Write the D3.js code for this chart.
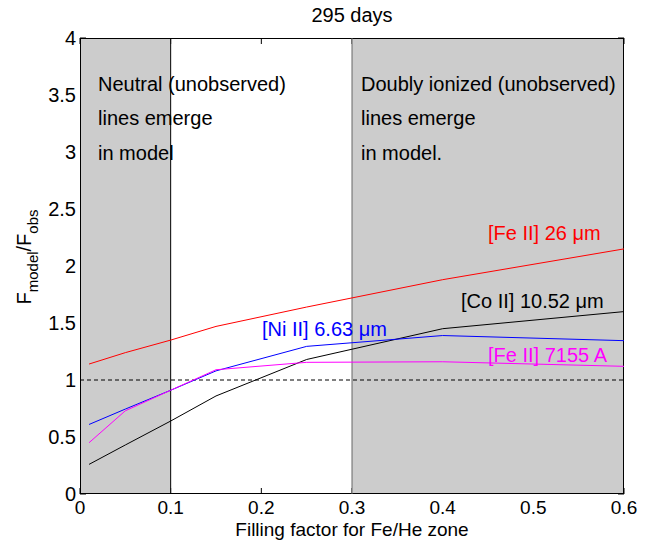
<!DOCTYPE html>
<html><head><meta charset="utf-8">
<script src="https://cdn.jsdelivr.net/npm/d3@7"></script>
<style>body{margin:0;background:#fff}svg{display:block}text{font-family:"Liberation Sans",Arial,sans-serif}</style>
</head><body>
<script>
const xVals = [0.01, 0.05, 0.1, 0.15, 0.25, 0.4, 0.6];
const feII26 = [1.14, 1.24, 1.35, 1.47, 1.64, 1.88, 2.15];
const coII = [0.26, 0.43, 0.64, 0.86, 1.18, 1.45, 1.60];
const niII = [0.61, 0.745, 0.91, 1.08, 1.295, 1.39, 1.345];
const feII7155 = [0.45, 0.73, 0.91, 1.09, 1.155, 1.16, 1.12];
const xTicks = [0, 0.1, 0.2, 0.3, 0.4, 0.5, 0.6];
const yTicks = [0, 0.5, 1, 1.5, 2, 2.5, 3, 3.5, 4];
const shaded = [[0, 0.1], [0.3, 0.6]];
const seriesNames = ["[Fe II] 26 \u03bcm", "[Co II] 10.52 \u03bcm", "[Ni II] 6.63 \u03bcm", "[Fe II] 7155 A"];

const W = 666, H = 542;
const L = 80, R = 624, T = 38, B = 494;
const svg = d3.select("body").append("svg").attr("width", W).attr("height", H);
const x = d3.scaleLinear().domain([0, 0.6]).range([L, R]);
const y = d3.scaleLinear().domain([0, 4]).range([B, T]);

// ticks (under patches, like MATLAB layer bottom)
const tk = 6;
const g = svg.append("g");
xTicks.forEach(v => {
  g.append("line").attr("x1", x(v)).attr("x2", x(v)).attr("y1", B).attr("y2", B - tk).attr("stroke", "#000");
  g.append("line").attr("x1", x(v)).attr("x2", x(v)).attr("y1", T).attr("y2", T + tk).attr("stroke", "#000");
});
yTicks.forEach(v => {
  g.append("line").attr("x1", L).attr("x2", L + tk).attr("y1", y(v)).attr("y2", y(v)).attr("stroke", "#000");
  g.append("line").attr("x1", R).attr("x2", R - tk).attr("y1", y(v)).attr("y2", y(v)).attr("stroke", "#000");
});

// shaded regions
shaded.forEach(s => {
  svg.append("rect").attr("x", x(s[0])).attr("y", y(4)).attr("width", x(s[1]) - x(s[0])).attr("height", y(0) - y(4)).attr("fill", "#cccccc");
});

// box
svg.append("rect").attr("x", L + 0.5).attr("y", T + 0.5).attr("width", R - L - 1).attr("height", B - T - 1)
  .attr("fill", "none").attr("stroke", "#000").attr("stroke-width", 1);
svg.append("line").attr("x1", x(0.1)).attr("x2", x(0.1)).attr("y1", T).attr("y2", B).attr("stroke", "#000");
svg.append("line").attr("x1", x(0.3)).attr("x2", x(0.3)).attr("y1", T).attr("y2", B).attr("stroke", "#666");

// dashed line at 1
svg.append("line").attr("x1", x(0)).attr("x2", x(0.6)).attr("y1", y(1)).attr("y2", y(1))
  .attr("stroke", "#000").attr("stroke-dasharray", "4,3");

const line = d3.line().x(d => x(d[0])).y(d => y(d[1]));
const series = [[feII26, "#ff0000"], [coII, "#000000"], [niII, "#0000ff"], [feII7155, "#ff00ff"]];
series.forEach(([vals, c]) => {
  svg.append("path").attr("d", line(xVals.map((v, i) => [v, vals[i]]))).attr("fill", "none").attr("stroke", c).attr("stroke-width", 1);
});

// tick labels
const fs = 20;
xTicks.forEach(v => {
  svg.append("text").attr("x", x(v)).attr("y", 514).attr("text-anchor", "middle").attr("font-size", 19).text(String(v));
});
yTicks.forEach(v => {
  svg.append("text").attr("x", 76).attr("y", y(v) + 7).attr("text-anchor", "end").attr("font-size", fs).text(String(v));
});

// titles
svg.append("text").attr("x", (L + R) / 2).attr("y", 22).attr("text-anchor", "middle").attr("font-size", fs).text("295 days");
svg.append("text").attr("x", (L + R) / 2).attr("y", 536).attr("text-anchor", "middle").attr("font-size", 19).text("Filling factor for Fe/He zone");

const yl = svg.append("text").attr("transform", "translate(31,257) rotate(-90)").attr("text-anchor", "middle").attr("font-size", fs);
yl.append("tspan").text("F");
yl.append("tspan").attr("font-size", 15).attr("dy", 7).text("model");
yl.append("tspan").attr("dy", -7).text("/F");
yl.append("tspan").attr("font-size", 15).attr("dy", 7).text("obs");

// annotations
const ann = [[98, ["Neutral (unobserved)", "lines emerge", "in model"]], [361, ["Doubly ionized (unobserved)", "lines emerge", "in model."]]];
const annY = [91, 125, 160];
ann.forEach(([ax, lines]) => {
  lines.forEach((t, i) => svg.append("text").attr("x", ax).attr("y", annY[i]).attr("font-size", fs).text(t));
});

// series labels
const labs = [[488, 240, "#ff0000"], [461, 308, "#000000"], [262, 336, "#0000ff"], [488, 362, "#ff00ff"]];
labs.forEach(([lx, ly, c], i) => {
  svg.append("text").attr("x", lx).attr("y", ly).attr("font-size", fs).attr("fill", c).text(seriesNames[i]);
});
</script>
</body></html>
